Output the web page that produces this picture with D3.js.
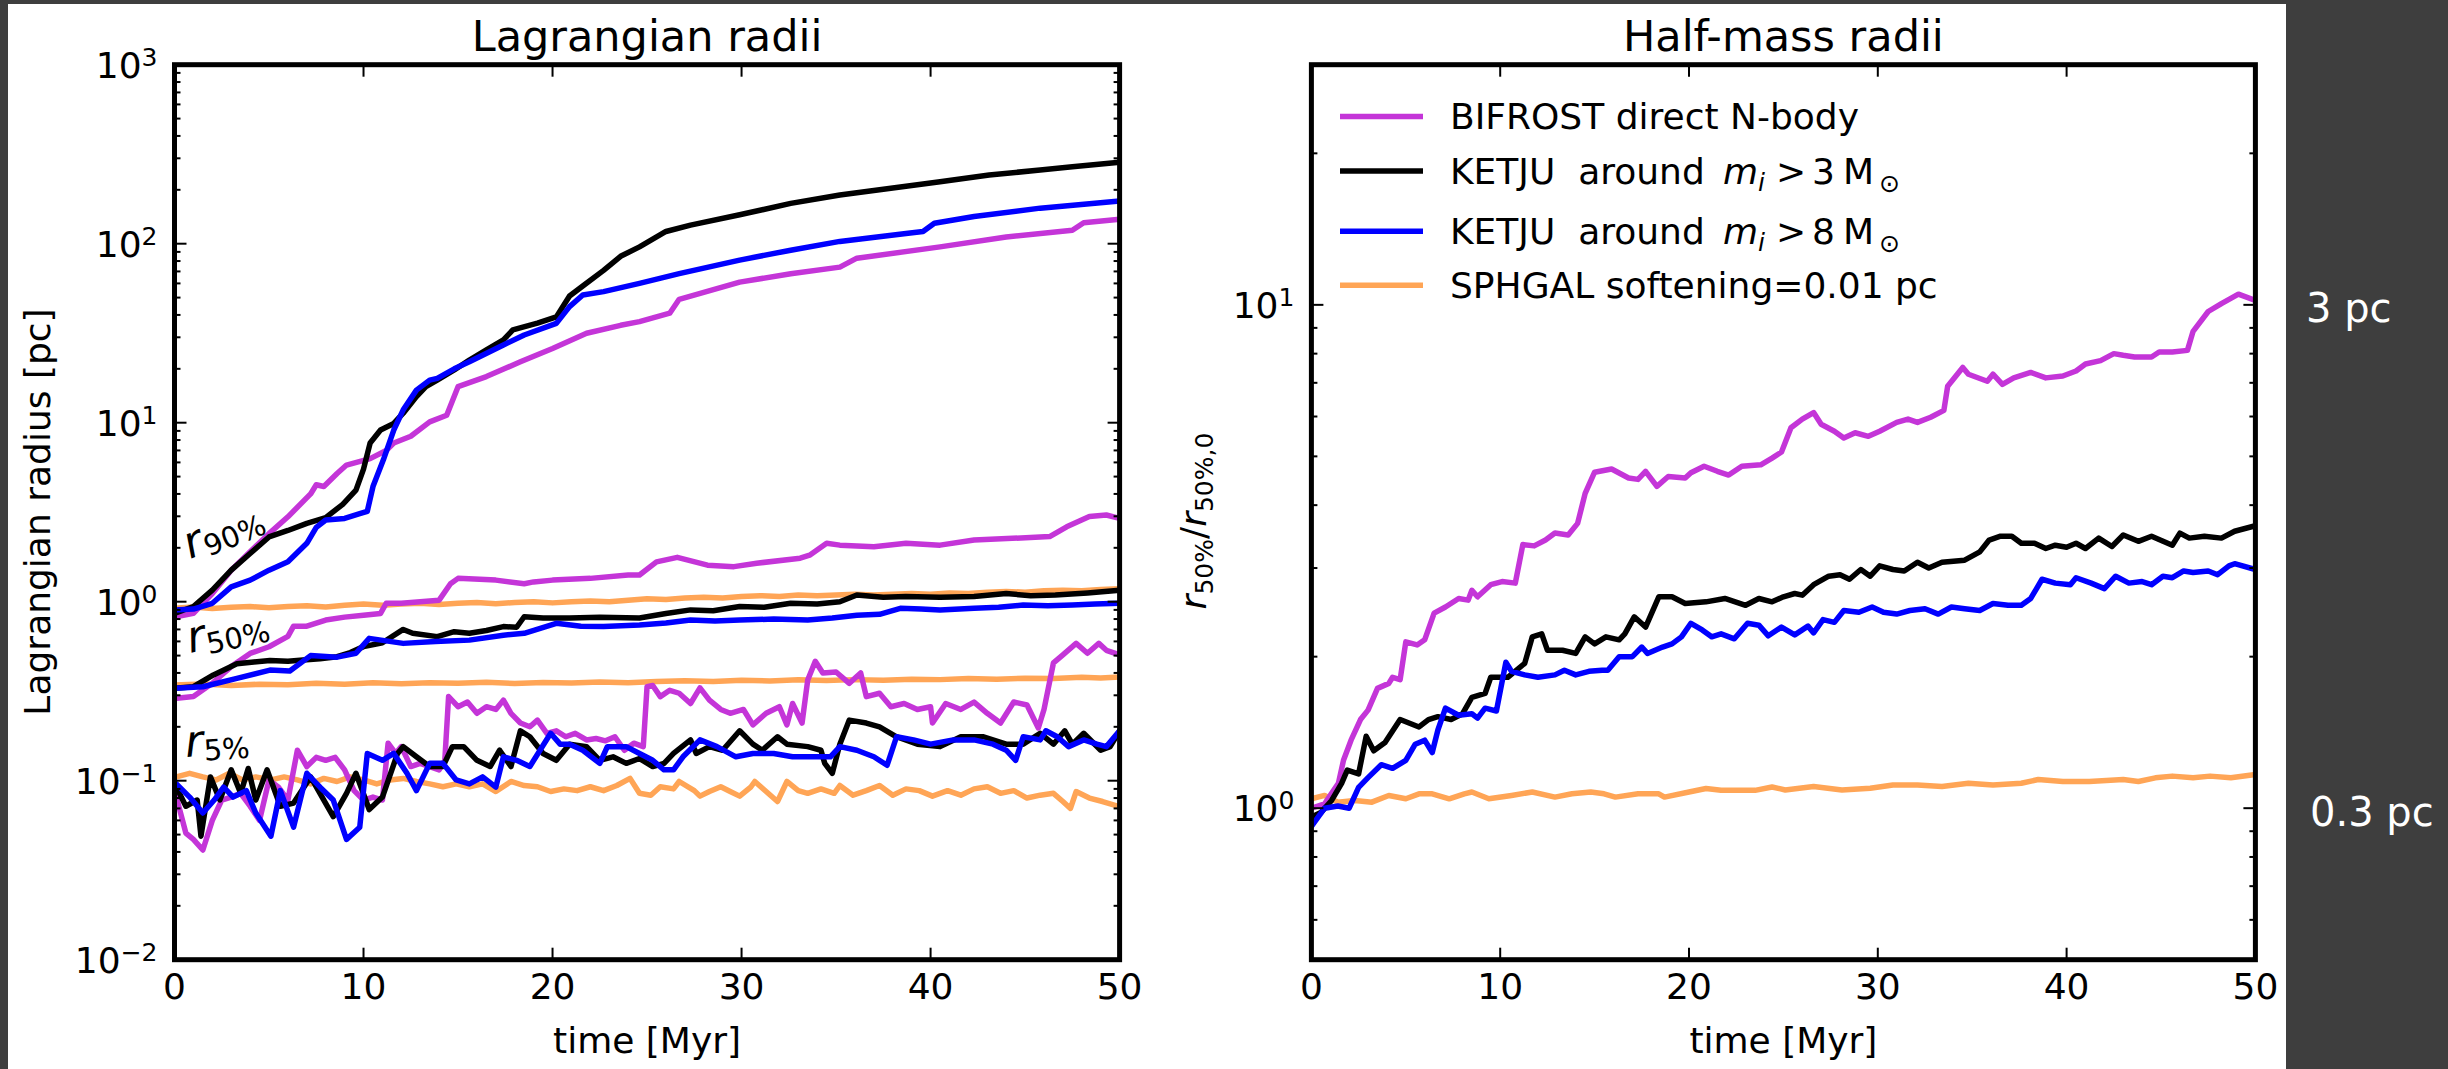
<!DOCTYPE html>
<html>
<head>
<meta charset="utf-8">
<script src="https://cdn.jsdelivr.net/npm/d3@7"></script>
<style>
  html, body { margin: 0; padding: 0; background: #3e3e3e; }
  svg { display: block; }
  text { font-family: "DejaVu Sans", sans-serif; fill: #000; }
</style>
</head>
<body>
<svg id="chart" width="2448" height="1069"></svg>
<script>
// ---- data: [time Myr, radius] ----

// Lagrangian radii, r90%
const bifrostR90 = [[0,0.82],[1,0.86],[2,1.11],[3,1.5],[4,1.9],[5,2.4],[6,2.98],[7.2,4.0],[7.5,4.5],[7.9,4.4],[8.6,5.2],[9.1,5.8],[10.35,6.3],[11.2,7.0],[11.6,7.7],[12.5,8.4],[13.5,10.1],[14.4,11.0],[15.0,15.9],[16.5,18.1],[18.3,21.9],[20.0,26],[21.8,31.6],[23.6,35],[24.6,36.7],[26.2,40.9],[26.7,48.9],[29.9,61],[32.6,68],[35.2,74],[36.1,83],[40.5,96],[44.0,109],[47.5,119],[48.1,131],[50,137]];
const ketju3R90 = [[0,0.86],[1,0.94],[2,1.16],[3,1.5],[4,1.86],[5,2.3],[6,2.5],[7,2.74],[8,2.95],[8.9,3.5],[9.6,4.2],[10.0,5.5],[10.35,7.7],[10.9,9.1],[11.6,9.9],[12.1,11.3],[12.8,14.0],[13.3,15.9],[13.9,17.3],[14.8,19.7],[15.6,22.4],[16.5,25.5],[17.4,29],[17.9,33],[19.2,36],[20.2,39],[20.9,51],[21.6,58],[22.7,71],[23.6,85],[24.6,96],[26.0,117],[27.3,127],[29.9,145],[32.6,168],[35.2,187],[37.9,204],[40.5,222],[43.1,242],[45.8,258],[47.5,269],[50,285]];
const ketju8R90 = [[0,0.90],[1,0.91],[2,0.98],[3,1.21],[4,1.32],[5,1.5],[6,1.67],[7,2.12],[7.5,2.6],[8,2.86],[9,2.92],[9.8,3.1],[10.2,3.2],[10.5,4.4],[11.05,6.2],[11.6,9.1],[12.1,11.8],[12.8,15.2],[13.5,17.3],[13.9,17.7],[14.8,20],[15.6,21.9],[17.4,27.2],[18.5,30.9],[20.2,35.9],[20.9,44.5],[21.6,51.7],[22.7,54],[24.6,60],[26.7,68],[29.9,81],[32.6,92],[35.2,103],[38.7,114],[39.6,117],[40.2,130],[42.3,142],[45.8,158],[50,173]];
const sphgalR90 = [[0,0.92],[1,0.935],[2,0.915],[3,0.93],[4,0.94],[5,0.925],[6,0.94],[7,0.95],[8,0.935],[9,0.955],[10,0.97],[11,0.955],[12,0.97],[13,0.98],[14,0.965],[15,0.98],[16,0.99],[17,0.975],[18,0.99],[19,1.0],[20,0.985],[21,1.0],[22,1.01],[23,1.0],[24,1.02],[25,1.04],[26,1.03],[27,1.05],[28,1.06],[29,1.05],[30,1.07],[31,1.08],[32,1.07],[33,1.09],[34,1.08],[35,1.09],[36,1.1],[37,1.09],[38,1.1],[39,1.11],[40,1.1],[41,1.12],[42,1.11],[43,1.13],[44,1.14],[45,1.13],[46,1.15],[47,1.16],[48,1.15],[49,1.17],[50,1.18]];

// Lagrangian radii, r50%
const bifrostR50 = [[0,0.288],[1,0.295],[2,0.35],[3,0.434],[4,0.514],[5,0.56],[6,0.64],[6.3,0.73],[7,0.73],[8,0.79],[9,0.82],[10,0.84],[10.9,0.86],[11.2,0.98],[12,0.98],[13,1.0],[14,1.02],[14.6,1.26],[15,1.35],[17,1.32],[18.5,1.26],[19,1.29],[20,1.32],[22,1.35],[24,1.41],[24.6,1.41],[25.5,1.67],[26.6,1.77],[28.2,1.60],[29.6,1.57],[30.8,1.64],[33.1,1.75],[33.6,1.82],[34.5,2.12],[35.2,2.07],[37.0,2.03],[38.7,2.12],[40.5,2.07],[42.3,2.21],[46.3,2.31],[47.2,2.62],[48.4,2.99],[49.3,3.05],[50,2.92]];
const ketju3R50 = [[0,0.328],[1,0.335],[2.06,0.39],[3.3,0.45],[4.2,0.46],[5.05,0.47],[6,0.465],[6.8,0.472],[7.7,0.48],[8.6,0.493],[9.3,0.52],[10,0.561],[11,0.59],[12.1,0.70],[12.6,0.666],[13.9,0.638],[14.8,0.68],[15.6,0.666],[16.5,0.69],[17.4,0.726],[18.1,0.72],[18.5,0.824],[19.5,0.81],[20.9,0.81],[22.5,0.82],[24.6,0.81],[26,0.86],[27.3,0.90],[28.5,0.89],[29.9,0.94],[31.2,0.93],[32.6,0.98],[34,0.97],[35.2,1.0],[36.1,1.09],[37.5,1.06],[38.7,1.07],[40.5,1.06],[42.3,1.07],[44.0,1.11],[45.3,1.08],[46.6,1.09],[48.3,1.12],[50,1.16]];
const ketju8R50 = [[0,0.328],[1.5,0.335],[3.3,0.373],[5.05,0.415],[6.1,0.41],[7.2,0.50],[8.6,0.49],[9.6,0.515],[10.3,0.624],[12.1,0.585],[13.8,0.60],[15.6,0.61],[17.4,0.65],[18.5,0.666],[20.2,0.757],[21.5,0.73],[22.7,0.726],[24.6,0.74],[26,0.76],[27.3,0.79],[28.6,0.78],[29.9,0.79],[31.7,0.80],[33.5,0.79],[34.8,0.81],[36.1,0.84],[37.3,0.85],[38.4,0.918],[39.5,0.91],[40.5,0.90],[42.3,0.918],[43.6,0.93],[44.9,0.958],[46.2,0.95],[47.5,0.958],[48.7,0.97],[50,0.98]];
const sphgalR50 = [[0,0.342],[1.5,0.347],[3,0.340],[4.5,0.346],[6,0.344],[7.5,0.35],[9,0.346],[10.5,0.352],[12,0.348],[13.5,0.353],[15,0.35],[16.5,0.355],[18,0.349],[19.5,0.354],[21,0.351],[22.5,0.356],[24,0.353],[25.5,0.358],[27,0.362],[28.5,0.358],[30,0.364],[31.5,0.361],[33,0.366],[34.5,0.363],[36,0.367],[37.5,0.364],[39,0.369],[40.5,0.367],[42,0.372],[43.5,0.369],[45,0.374],[46.5,0.372],[48,0.378],[49,0.375],[50,0.38]];

// Lagrangian radii, r5%
const bifrostR5 = [[0.1,0.081],[0.6,0.051],[1.0,0.047],[1.5,0.041],[2.0,0.060],[2.5,0.078],[3.0,0.081],[3.5,0.085],[4.0,0.072],[4.5,0.060],[5.0,0.101],[5.5,0.092],[6.0,0.078],[6.5,0.148],[7.0,0.12],[7.5,0.135],[8.0,0.13],[8.5,0.135],[9.0,0.115],[9.5,0.088],[10.0,0.078],[10.5,0.081],[11.0,0.078],[11.3,0.162],[11.7,0.142],[12.0,0.155],[12.5,0.12],[13.0,0.125],[13.5,0.12],[14.0,0.115],[14.3,0.13],[14.5,0.295],[15.0,0.259],[15.5,0.275],[16.0,0.238],[16.5,0.259],[17.0,0.25],[17.4,0.282],[17.8,0.238],[18.3,0.21],[18.8,0.20],[19.2,0.218],[19.7,0.184],[20.2,0.19],[20.7,0.176],[21.2,0.184],[21.8,0.169],[22.3,0.172],[22.8,0.167],[23.3,0.176],[23.8,0.148],[24.3,0.162],[24.8,0.155],[25.0,0.335],[25.3,0.34],[25.7,0.295],[26.2,0.32],[26.7,0.308],[27.3,0.27],[27.8,0.33],[28.3,0.282],[28.9,0.25],[29.4,0.238],[30.1,0.25],[30.6,0.205],[31.3,0.238],[32.0,0.259],[32.4,0.205],[32.7,0.27],[33.2,0.21],[33.5,0.365],[33.9,0.465],[34.3,0.40],[35.0,0.405],[35.7,0.35],[36.3,0.40],[36.6,0.295],[37.3,0.308],[37.9,0.259],[38.6,0.27],[39.3,0.25],[40.0,0.259],[40.1,0.21],[40.8,0.27],[41.6,0.25],[42.3,0.275],[43.0,0.238],[43.7,0.21],[44.4,0.275],[45.1,0.265],[45.7,0.197],[46.0,0.25],[46.5,0.455],[47.0,0.505],[47.7,0.585],[48.3,0.515],[48.9,0.585],[49.3,0.535],[50,0.505]];
const ketju3R5 = [[0.1,0.092],[0.6,0.072],[1.2,0.078],[1.4,0.049],[1.9,0.105],[2.4,0.078],[3.0,0.115],[3.5,0.085],[3.9,0.117],[4.3,0.078],[4.9,0.115],[5.6,0.072],[6.3,0.075],[7.2,0.105],[7.9,0.078],[8.4,0.063],[9.1,0.085],[9.6,0.11],[10.3,0.069],[11.0,0.081],[11.8,0.142],[12.1,0.155],[12.8,0.136],[13.5,0.12],[14.2,0.12],[14.7,0.155],[15.3,0.155],[16.0,0.13],[16.7,0.12],[17.2,0.148],[17.8,0.12],[18.3,0.19],[18.8,0.176],[19.5,0.142],[20.2,0.13],[20.9,0.16],[21.8,0.155],[22.5,0.13],[23.2,0.136],[23.9,0.125],[24.6,0.133],[25.3,0.12],[25.9,0.125],[26.4,0.142],[27.3,0.169],[27.6,0.142],[28.3,0.155],[29.0,0.148],[29.9,0.19],[30.6,0.16],[31.1,0.148],[31.9,0.176],[32.4,0.16],[33.5,0.155],[34.2,0.148],[34.4,0.125],[34.8,0.11],[35.2,0.16],[35.7,0.218],[36.6,0.21],[37.3,0.20],[38.2,0.176],[39.3,0.16],[40.5,0.155],[41.6,0.176],[42.8,0.176],[44.0,0.16],[44.9,0.16],[45.8,0.184],[46.5,0.16],[47.1,0.19],[47.5,0.16],[48.1,0.184],[49.0,0.148],[49.5,0.155],[50,0.19]];
const ketju8R5 = [[0.1,0.096],[0.8,0.081],[1.5,0.066],[2.1,0.078],[2.6,0.092],[3.1,0.081],[3.8,0.088],[4.3,0.066],[5.1,0.049],[5.6,0.088],[6.3,0.055],[7.0,0.11],[7.7,0.092],[8.4,0.078],[9.1,0.047],[9.8,0.055],[10.2,0.142],[11.0,0.13],[11.6,0.142],[12.3,0.11],[12.8,0.088],[13.5,0.125],[14.2,0.125],[14.9,0.101],[15.6,0.096],[16.3,0.105],[17.0,0.092],[17.4,0.136],[18.1,0.13],[18.8,0.12],[19.9,0.184],[20.4,0.16],[20.9,0.16],[21.6,0.148],[22.5,0.125],[22.9,0.155],[23.9,0.155],[24.6,0.142],[25.3,0.13],[25.9,0.115],[26.4,0.115],[26.9,0.136],[27.8,0.169],[28.7,0.155],[29.7,0.136],[30.6,0.142],[31.7,0.142],[32.7,0.136],[33.8,0.136],[34.7,0.136],[35.2,0.155],[36.1,0.148],[37.0,0.136],[37.7,0.122],[38.2,0.176],[39.1,0.169],[40.0,0.16],[41.2,0.169],[42.3,0.169],[43.3,0.16],[44.0,0.148],[44.5,0.13],[44.9,0.176],[45.8,0.169],[46.1,0.19],[46.7,0.176],[47.3,0.155],[48.1,0.169],[48.8,0.16],[49.3,0.155],[50,0.19]];
const sphgalR5 = [[0.1,0.105],[0.8,0.110],[1.5,0.105],[2.2,0.101],[2.9,0.110],[3.6,0.101],[4.3,0.105],[5.1,0.101],[5.8,0.105],[6.5,0.101],[7.2,0.096],[7.9,0.103],[8.6,0.099],[9.3,0.105],[10.0,0.101],[10.7,0.096],[11.4,0.101],[12.1,0.103],[12.8,0.099],[13.5,0.096],[14.2,0.0925],[14.9,0.096],[15.6,0.0925],[16.3,0.096],[17.0,0.087],[17.8,0.099],[18.5,0.094],[19.2,0.0925],[19.9,0.087],[20.6,0.090],[21.3,0.088],[22.0,0.0925],[22.7,0.088],[23.4,0.094],[24.1,0.103],[24.6,0.085],[25.2,0.083],[25.7,0.0925],[26.4,0.090],[26.7,0.099],[27.5,0.088],[27.8,0.082],[28.3,0.087],[28.9,0.0925],[29.4,0.087],[29.9,0.082],[30.5,0.0925],[30.7,0.099],[31.3,0.087],[31.9,0.0765],[32.4,0.099],[33.0,0.088],[33.5,0.085],[34.2,0.090],[34.9,0.085],[35.2,0.094],[35.9,0.083],[36.6,0.088],[37.3,0.094],[38.0,0.083],[38.7,0.090],[39.4,0.088],[40.1,0.082],[40.9,0.088],[41.6,0.083],[42.3,0.090],[43.0,0.0925],[43.7,0.085],[44.4,0.088],[45.1,0.080],[45.8,0.083],[46.5,0.085],[47.0,0.0765],[47.4,0.070],[47.7,0.087],[48.4,0.080],[49.1,0.0765],[50,0.0716]];

// Half-mass radii, r50% / r50%,0
const bifrostHalf = [[0,1.0],[0.7,1.02],[1.07,1.07],[1.43,1.12],[1.7,1.245],[2.1,1.365],[2.6,1.50],[3.0,1.566],[3.5,1.73],[4.1,1.77],[4.3,1.82],[4.7,1.80],[5.0,2.14],[5.6,2.11],[6.0,2.16],[6.5,2.44],[7.1,2.51],[7.8,2.61],[8.3,2.59],[8.5,2.71],[8.8,2.63],[9.5,2.78],[10.1,2.82],[10.8,2.80],[11.2,3.34],[11.8,3.32],[12.4,3.41],[12.9,3.52],[13.6,3.49],[14.1,3.68],[14.5,4.22],[15.0,4.65],[15.9,4.72],[16.8,4.53],[17.3,4.50],[17.7,4.67],[18.3,4.36],[18.9,4.56],[19.8,4.53],[20.1,4.64],[20.8,4.78],[21.5,4.67],[22.1,4.59],[22.8,4.78],[23.8,4.81],[24.4,4.96],[24.9,5.1],[25.4,5.70],[26.0,5.93],[26.6,6.11],[27.0,5.79],[27.7,5.61],[28.2,5.44],[28.8,5.57],[29.5,5.48],[30.1,5.61],[31.0,5.84],[31.6,5.93],[32.1,5.84],[32.8,5.98],[33.5,6.17],[33.7,6.89],[34.5,7.51],[34.8,7.28],[35.8,7.05],[36.1,7.28],[36.6,6.95],[37.2,7.16],[38.1,7.34],[38.9,7.16],[39.8,7.22],[40.5,7.39],[41.0,7.63],[41.8,7.75],[42.5,8.0],[43.0,7.94],[43.6,7.88],[44.5,7.88],[44.9,8.06],[45.6,8.06],[46.4,8.12],[46.7,8.86],[47.5,9.7],[48.2,10.06],[49.1,10.5],[50,10.2]];
const ketju3Half = [[0,0.96],[0.5,0.98],[1.07,1.036],[1.6,1.12],[1.9,1.19],[2.5,1.17],[2.9,1.39],[3.3,1.30],[3.9,1.35],[4.7,1.50],[5.7,1.45],[6.2,1.50],[6.7,1.52],[7.4,1.50],[8.0,1.54],[8.5,1.66],[9.2,1.69],[9.5,1.82],[10.4,1.82],[11.3,1.94],[11.7,2.19],[12.2,2.22],[12.5,2.06],[13.3,2.06],[14.0,2.03],[14.5,2.19],[15.0,2.12],[15.6,2.19],[16.3,2.16],[16.6,2.22],[17.1,2.40],[17.7,2.29],[18.4,2.63],[19.1,2.63],[19.8,2.55],[20.9,2.57],[21.9,2.61],[23.0,2.53],[23.7,2.61],[24.4,2.57],[25.0,2.63],[25.6,2.67],[26.0,2.65],[26.6,2.78],[27.4,2.89],[28.0,2.91],[28.5,2.85],[29.1,2.98],[29.6,2.89],[30.1,3.03],[30.8,2.98],[31.4,2.96],[32.1,3.08],[32.7,3.0],[33.4,3.08],[34.6,3.11],[35.4,3.23],[35.9,3.41],[36.5,3.47],[37.1,3.47],[37.6,3.36],[38.3,3.36],[38.9,3.28],[39.4,3.33],[40.0,3.30],[40.5,3.36],[41.0,3.28],[41.7,3.44],[42.4,3.31],[43.0,3.49],[43.8,3.39],[44.5,3.47],[45.6,3.33],[46.0,3.52],[46.5,3.44],[47.3,3.47],[48.2,3.44],[48.9,3.55],[50,3.64]];
const ketju8Half = [[0,0.92],[0.7,1.0],[1.4,1.01],[2.0,1.0],[2.5,1.10],[3.0,1.15],[3.7,1.22],[4.3,1.20],[5.0,1.245],[5.5,1.34],[6.0,1.365],[6.4,1.29],[6.7,1.43],[7.1,1.58],[7.8,1.53],[8.5,1.54],[8.8,1.51],[9.2,1.58],[9.8,1.56],[10.3,1.95],[10.6,1.87],[11.3,1.84],[12.0,1.82],[12.9,1.84],[13.4,1.88],[14.0,1.84],[14.7,1.87],[15.4,1.88],[15.7,1.88],[16.3,2.0],[17.0,2.0],[17.5,2.09],[17.8,2.03],[18.6,2.09],[19.1,2.12],[19.6,2.19],[20.1,2.33],[20.7,2.26],[21.2,2.19],[21.7,2.22],[22.4,2.17],[23.1,2.33],[23.7,2.31],[24.2,2.2],[24.9,2.29],[25.6,2.21],[26.3,2.30],[26.6,2.23],[27.1,2.37],[27.7,2.34],[28.2,2.47],[29.0,2.45],[29.7,2.51],[30.3,2.45],[31.0,2.43],[31.7,2.47],[32.5,2.49],[33.2,2.43],[33.9,2.51],[34.6,2.49],[35.4,2.47],[36.1,2.55],[36.9,2.53],[37.6,2.53],[38.1,2.61],[38.7,2.85],[39.4,2.80],[40.2,2.78],[40.5,2.87],[41.3,2.80],[42.0,2.73],[42.6,2.89],[43.3,2.80],[44.0,2.82],[44.5,2.78],[45.1,2.89],[45.6,2.87],[46.2,2.96],[46.7,2.94],[47.5,2.96],[48.0,2.91],[48.6,3.03],[48.9,3.06],[50,2.98]];
const sphgalHalf = [[0,1.044],[0.7,1.06],[1.4,1.028],[2.3,1.036],[3.2,1.028],[4.1,1.06],[5.0,1.044],[5.7,1.068],[6.4,1.068],[7.3,1.044],[8.1,1.068],[8.5,1.077],[9.4,1.044],[10.6,1.06],[11.7,1.077],[12.9,1.052],[13.8,1.068],[14.8,1.077],[15.5,1.068],[16.1,1.052],[17.3,1.068],[18.4,1.068],[18.7,1.052],[20.0,1.077],[20.9,1.094],[21.7,1.085],[22.6,1.085],[23.5,1.085],[24.4,1.102],[25.1,1.087],[26.6,1.104],[28.1,1.087],[29.6,1.095],[30.8,1.112],[32.1,1.112],[33.4,1.104],[34.8,1.121],[36.1,1.112],[37.6,1.121],[38.5,1.14],[39.8,1.13],[41.2,1.13],[43.0,1.14],[43.8,1.13],[44.7,1.149],[45.6,1.158],[46.7,1.149],[47.6,1.158],[48.7,1.149],[50,1.167]];

const legendNames = ['BIFROST direct N-body', 'KETJU', 'KETJU', 'SPHGAL softening=0.01 pc'];
const legendMassCut = [null, '3', '8', null];
const xTicks = [0, 10, 20, 30, 40, 50];
const sideNotes = ['3 pc', '0.3 pc'];
const sideNoteValues = [10, 1];   // ratio levels on the right panel

// ---- layout ----
const colors = { bifrost: '#c435d8', ketju3: '#000000', ketju8: '#0000ff', sphgal: '#ffa556' };
const plotTop = 64.7, plotBottom = 959.7;

const svg = d3.select('#chart');
svg.append('rect').attr('x', 8).attr('y', 4).attr('width', 2278).attr('height', 1065).attr('fill', '#fff');

const panels = [
  { id: 'lag', left: 174.5, right: 1119.6, domain: [0.01, 1000], title: 'Lagrangian radii',
    series: [
      [sphgalR90, colors.sphgal], [sphgalR50, colors.sphgal], [sphgalR5, colors.sphgal],
      [bifrostR90, colors.bifrost], [bifrostR50, colors.bifrost], [bifrostR5, colors.bifrost],
      [ketju3R90, colors.ketju3], [ketju3R50, colors.ketju3], [ketju3R5, colors.ketju3],
      [ketju8R90, colors.ketju8], [ketju8R50, colors.ketju8], [ketju8R5, colors.ketju8]
    ] },
  { id: 'half', left: 1311.4, right: 2255.4, domain: [0.5, 30], title: 'Half-mass radii',
    series: [
      [sphgalHalf, colors.sphgal], [bifrostHalf, colors.bifrost],
      [ketju3Half, colors.ketju3], [ketju8Half, colors.ketju8]
    ] }
];

function supTen(sel, exp) {
  sel.append('tspan').text('10');
  sel.append('tspan').attr('font-size', 25).attr('dy', -12)
    .text(exp < 0 ? '\u2212' + (-exp) : String(exp));
}

panels.forEach(p => {
  const x = d3.scaleLinear().domain([0, 50]).range([p.left, p.right]);
  const y = d3.scaleLog().domain(p.domain).range([plotBottom, plotTop]);
  p.x = x; p.y = y;
  const g = svg.append('g');

  g.append('clipPath').attr('id', 'clip-' + p.id).append('rect')
    .attr('x', p.left).attr('y', plotTop).attr('width', p.right - p.left).attr('height', plotBottom - plotTop);

  const line = d3.line().x(d => x(d[0])).y(d => y(d[1]));
  g.append('g').attr('clip-path', 'url(#clip-' + p.id + ')')
    .selectAll('path').data(p.series).join('path')
    .attr('d', d => line(d[0]))
    .attr('fill', 'none')
    .attr('stroke', d => d[1])
    .attr('stroke-width', 5.5)
    .attr('stroke-linejoin', 'round')
    .attr('stroke-linecap', 'round');

  // y ticks, inside, both sides
  const yt = y.ticks();
  const isMajor = v => Math.abs(Math.log10(v) - Math.round(Math.log10(v))) < 1e-6;
  yt.forEach(v => {
    const len = isMajor(v) ? 12 : 6;
    const yy = y(v);
    g.append('line').attr('x1', p.left).attr('x2', p.left + len).attr('y1', yy).attr('y2', yy)
      .attr('stroke', '#000').attr('stroke-width', 2);
    g.append('line').attr('x1', p.right).attr('x2', p.right - len).attr('y1', yy).attr('y2', yy)
      .attr('stroke', '#000').attr('stroke-width', 2);
    if (isMajor(v)) {
      const t = g.append('text').attr('x', p.left - 17).attr('y', yy + 13)
        .attr('text-anchor', 'end').attr('font-size', 36);
      supTen(t, Math.round(Math.log10(v)));
    }
  });

  // x ticks
  xTicks.forEach(v => {
    const xx = x(v);
    g.append('line').attr('x1', xx).attr('x2', xx).attr('y1', plotBottom).attr('y2', plotBottom - 12)
      .attr('stroke', '#000').attr('stroke-width', 2);
    g.append('line').attr('x1', xx).attr('x2', xx).attr('y1', plotTop).attr('y2', plotTop + 12)
      .attr('stroke', '#000').attr('stroke-width', 2);
    g.append('text').attr('x', xx).attr('y', 999).attr('text-anchor', 'middle')
      .attr('font-size', 36).text(v);
  });

  // frame
  g.append('rect').attr('x', p.left).attr('y', plotTop)
    .attr('width', p.right - p.left).attr('height', plotBottom - plotTop)
    .attr('fill', 'none').attr('stroke', '#000').attr('stroke-width', 5);

  g.append('text').attr('x', (p.left + p.right) / 2).attr('y', 50.5)
    .attr('text-anchor', 'middle').attr('font-size', 43).text(p.title);
  g.append('text').attr('x', (p.left + p.right) / 2).attr('y', 1053)
    .attr('text-anchor', 'middle').attr('font-size', 36).text('time [Myr]');
});

// y labels
svg.append('text').attr('transform', 'translate(50,512) rotate(-90)')
  .attr('text-anchor', 'middle').attr('font-size', 36).text('Lagrangian radius [pc]');

const yl = svg.append('text').attr('transform', 'translate(1206,521) rotate(-90)')
  .attr('text-anchor', 'middle').attr('font-size', 36);
yl.append('tspan').attr('font-style', 'italic').text('r');
yl.append('tspan').attr('font-size', 25).attr('dy', 7).text('50%');
yl.append('tspan').attr('dy', -7).text('/');
yl.append('tspan').attr('font-style', 'italic').text('r');
yl.append('tspan').attr('font-size', 25).attr('dy', 7).text('50%,0');

// r90 / r50 / r5 annotations
const notes = [
  { sub: '90%', x: 190, y: 559, rot: -22 },
  { sub: '50%', x: 190, y: 653, rot: -12 },
  { sub: '5%', x: 186, y: 757, rot: -4 }
];
notes.forEach(n => {
  const t = svg.append('text').attr('transform', `translate(${n.x},${n.y}) rotate(${n.rot})`)
    .attr('font-size', 44);
  t.append('tspan').attr('font-style', 'italic').text('r');
  t.append('tspan').attr('font-size', 29).attr('dy', 5).text(n.sub);
});

// legend
const legendColors = [colors.bifrost, colors.ketju3, colors.ketju8, colors.sphgal];
const legendY = [116.5, 171, 231.3, 285.3];
const lg = svg.append('g');
legendNames.forEach((name, i) => {
  const yy = legendY[i];
  lg.append('line').attr('x1', 1340).attr('x2', 1423).attr('y1', yy).attr('y2', yy)
    .attr('stroke', legendColors[i]).attr('stroke-width', 5.5);
  const t = lg.append('text').attr('x', 1450).attr('y', yy + 12.7).attr('font-size', 36);
  if (legendMassCut[i] === null) {
    t.text(name);
  } else {
    t.append('tspan').text(name + '\u00a0\u00a0around');
    t.append('tspan').attr('x', 1723).attr('font-style', 'italic').text('m');
    t.append('tspan').attr('font-style', 'italic').attr('font-size', 25).attr('dy', 7).text('i');
    t.append('tspan').attr('x', 1776).attr('dy', -7).text('>');
    t.append('tspan').attr('x', 1812).text(legendMassCut[i]);
    t.append('tspan').attr('x', 1843).text('M');
    t.append('tspan').attr('x', 1879).attr('font-size', 25).attr('dy', 8).text('\u2299');
  }
});

// side notes on the dark strip
const yHalf = panels[1].y;
sideNotes.forEach((s, i) => {
  svg.append('text').attr('x', i === 0 ? 2306 : 2310).attr('y', yHalf(sideNoteValues[i]) + 16 + (i === 0 ? 1 : 2))
    .attr('font-family', '"Open Sans", sans-serif').attr('font-size', 40)
    .style('fill', '#fff').text(s);
});
</script>
</body>
</html>
